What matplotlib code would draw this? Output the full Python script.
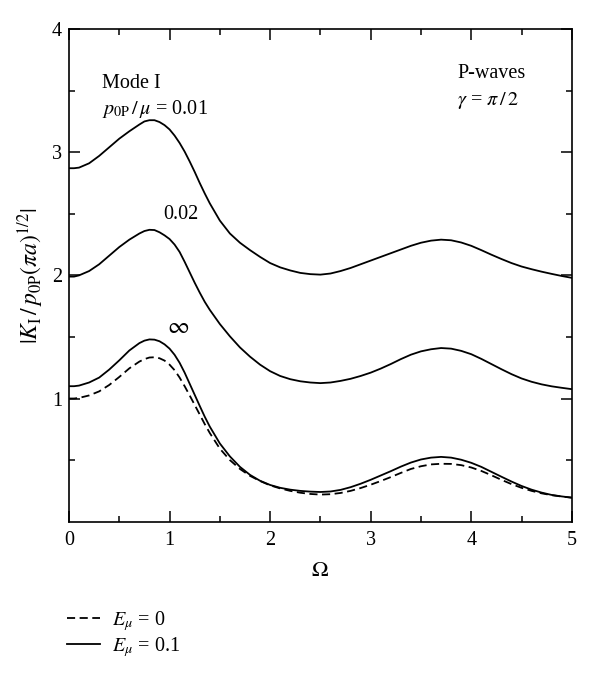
import matplotlib
matplotlib.use("Agg")
import matplotlib.pyplot as plt
from matplotlib.lines import Line2D

plt.rcParams['font.family'] = ['Liberation Serif', 'DejaVu Serif']
plt.rcParams['mathtext.fontset'] = 'stix'

# Data (Omega values and |K_I| curves)
omega = [0, 0.05, 0.1, 0.2, 0.3, 0.4, 0.5, 0.6, 0.7, 0.75, 0.8, 0.85, 0.9, 0.95,
         1.0, 1.05, 1.1, 1.15, 1.2, 1.25, 1.3, 1.35, 1.4, 1.5, 1.6, 1.7, 1.8, 1.9,
         2.0, 2.1, 2.2, 2.3, 2.4, 2.5, 2.6, 2.7, 2.8, 2.9, 3.0, 3.1, 3.2, 3.3, 3.4,
         3.5, 3.6, 3.7, 3.8, 3.9, 4.0, 4.1, 4.2, 4.3, 4.4, 4.5, 4.6, 4.7, 4.8, 4.9, 5.0]

k_001 = [2.87, 2.87, 2.875, 2.91, 2.97, 3.04, 3.11, 3.17, 3.225, 3.25, 3.26, 3.26, 3.245, 3.22,
         3.185, 3.135, 3.075, 3.005, 2.925, 2.84, 2.75, 2.665, 2.585, 2.445, 2.34, 2.265, 2.205, 2.15,
         2.10, 2.065, 2.04, 2.02, 2.01, 2.006, 2.015, 2.035, 2.06, 2.09, 2.12, 2.15, 2.18, 2.21, 2.24,
         2.265, 2.282, 2.29, 2.285, 2.267, 2.24, 2.205, 2.168, 2.133, 2.10, 2.072, 2.05, 2.03, 2.012, 1.995, 1.98]

k_002 = [1.99, 1.99, 2.0, 2.035, 2.09, 2.16, 2.23, 2.29, 2.34, 2.36, 2.37, 2.368, 2.35, 2.325,
         2.295, 2.25, 2.19, 2.11, 2.025, 1.94, 1.86, 1.785, 1.72, 1.605, 1.505, 1.415, 1.34, 1.275,
         1.222, 1.183, 1.157, 1.14, 1.13, 1.125, 1.13, 1.143, 1.16, 1.183, 1.21, 1.243, 1.28, 1.32, 1.356,
         1.383, 1.40, 1.41, 1.405, 1.387, 1.36, 1.322, 1.28, 1.238, 1.198, 1.163, 1.136, 1.115, 1.099, 1.087, 1.076]

k_inf = [1.10, 1.10, 1.105, 1.13, 1.17, 1.235, 1.31, 1.39, 1.45, 1.47, 1.48, 1.478, 1.465, 1.44,
         1.405, 1.355, 1.29, 1.21, 1.12, 1.03, 0.94, 0.852, 0.772, 0.635, 0.53, 0.445, 0.38, 0.332,
         0.298, 0.275, 0.26, 0.25, 0.244, 0.241, 0.245, 0.258, 0.28, 0.308, 0.34, 0.375, 0.41, 0.447, 0.48,
         0.505, 0.52, 0.526, 0.52, 0.503, 0.478, 0.445, 0.405, 0.365, 0.326, 0.29, 0.26, 0.236, 0.217, 0.205, 0.195]

k_e0 = [1.0, 1.0, 1.005, 1.025, 1.058, 1.11, 1.175, 1.245, 1.30, 1.32, 1.333, 1.335, 1.327, 1.308,
        1.275, 1.23, 1.17, 1.10, 1.025, 0.948, 0.87, 0.792, 0.72, 0.593, 0.50, 0.428, 0.372, 0.33,
        0.295, 0.27, 0.25, 0.235, 0.225, 0.22, 0.223, 0.233, 0.25, 0.273, 0.30, 0.33, 0.362, 0.396, 0.428,
        0.45, 0.465, 0.47, 0.469, 0.459, 0.44, 0.412, 0.377, 0.34, 0.305, 0.275, 0.25, 0.23, 0.215, 0.204, 0.195]

xticks = [0, 1, 2, 3, 4, 5]
yticks = [1, 2, 3, 4]

fig = plt.figure(figsize=(6.0, 6.76), dpi=100)
ax = fig.add_axes([0.115, 0.2283, 0.838, 0.7287])

lw = 1.3
dash = (0, (4.5, 2.5))
ax.plot(omega, k_001, color='black', lw=lw)
ax.plot(omega, k_002, color='black', lw=lw)
ax.plot(omega, k_inf, color='black', lw=lw)
ax.plot(omega, k_e0, color='black', lw=lw, ls=dash)

ax.set_xlim(0, 5)
ax.set_ylim(0, 4)
ax.set_xticks(xticks)
ax.set_yticks(yticks)
ax.set_xticks([0.5, 1.5, 2.5, 3.5, 4.5], minor=True)
ax.set_yticks([0.5, 1.5, 2.5, 3.5], minor=True)
ax.tick_params(which='both', direction='in', top=True, right=True, labelsize=14.5, width=1.1)
ax.tick_params(which='major', length=8)
ax.tick_params(which='minor', length=4)
ax.tick_params(axis='x', pad=7)
ax.tick_params(axis='y', pad=5)
for s in ax.spines.values():
    s.set_linewidth(1.2)

ax.set_xlabel(r'$\Omega$', fontsize=16, labelpad=8)
ax.set_ylabel(r'$|K_{\mathrm{I}}\,/\,p_{\mathrm{0P}}(\pi a)^{1/2}|$', fontsize=17, labelpad=4)

fs = 14.5
ax.text(0.33, 3.56, 'Mode I', fontsize=fs, va='center', ha='left')
ax.text(0.33, 3.35, r'$p_{\mathrm{0P}}\,/\,\mu$ = 0.01', fontsize=fs, va='center', ha='left')
ax.text(3.86, 3.64, 'P-waves', fontsize=fs, va='center', ha='left')
ax.text(3.86, 3.42, r'$\gamma$ = $\pi\,/\,2$', fontsize=fs, va='center', ha='left')
ax.text(0.94, 2.42, '0.02', fontsize=fs, va='bottom', ha='left')
ax.text(0.97, 1.49, r'$\infty$', fontsize=17, va='bottom', ha='left')

handles = [Line2D([], [], color='black', lw=lw, ls=dash),
           Line2D([], [], color='black', lw=lw)]
labels = [r'$E_{\mu}$ = 0', r'$E_{\mu}$ = 0.1']
fig.legend(handles, labels, loc='upper left', bbox_to_anchor=(0.112, 0.099),
           frameon=False, fontsize=14.5, handlelength=1.65, handletextpad=0.55,
           labelspacing=0.1, borderaxespad=0, borderpad=0)

fig.savefig('out.png', dpi=100)
